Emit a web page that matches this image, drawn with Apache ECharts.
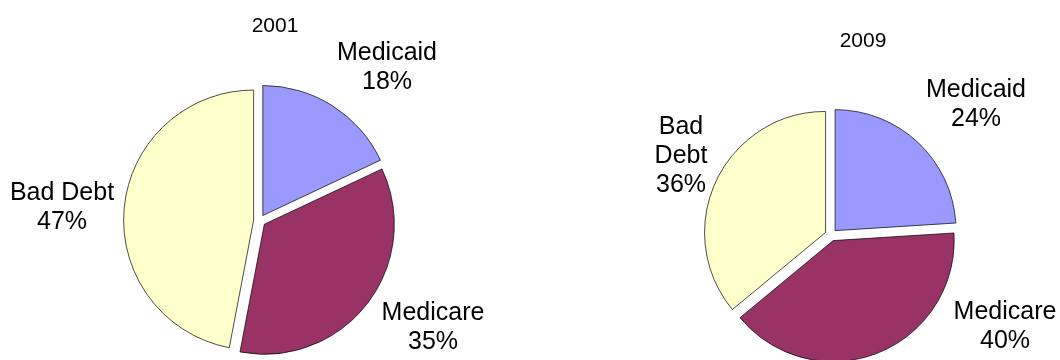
<!DOCTYPE html>
<html>
<head>
<meta charset="utf-8">
<script src="https://cdn.jsdelivr.net/npm/echarts@6/dist/echarts.min.js"></script>
<style>html,body{margin:0;padding:0;background:#fff;}#c{width:1060px;height:360px;}</style>
</head>
<body>
<div id="c"></div>
<script>
var categories = ['Medicaid', 'Medicare', 'Bad Debt'];
var values2001 = [18, 35, 47];
var values2009 = [24, 40, 36];
var titles = ['2001', '2009'];
var colors = ['#9999FF', '#993366', '#FFFFCC'];

// label block centres (layout only)
var labelPos2001 = [[387, 68], [433, 328], [62, 208]];
var labelPos2009 = [[976, 105], [1005, 327], [681, 156]];
var wrapNames2009 = { 2: 'Bad\nDebt' };

var FONT = '"Liberation Sans", Arial, sans-serif';

function makeSeries(vals, center, radius) {
  return {
    type: 'pie',
    center: center,
    radius: radius,
    startAngle: 90,
    clockwise: true,
    selectedMode: 'multiple',
    selectedOffset: 6,
    animation: false,
    silent: true,
    itemStyle: { borderColor: '#000', borderWidth: 0.7 },
    label: { show: false },
    labelLine: { show: false },
    emphasis: { disabled: true },
    data: categories.map(function (c, i) {
      return { name: c, value: vals[i], selected: true, itemStyle: { color: colors[i] } };
    })
  };
}

function makeLabels(vals, pos, wrap) {
  return categories.map(function (c, i) {
    var n = wrap && wrap[i] ? wrap[i] : c;
    return {
      type: 'text',
      x: pos[i][0],
      y: pos[i][1],
      silent: true,
      style: {
        text: n + '\n' + vals[i] + '%',
        fill: '#000',
        font: '25px ' + FONT,
        fontSize: 25,
        fontFamily: FONT,
        lineHeight: 29,
        align: 'center',
        verticalAlign: 'middle'
      }
    };
  });
}

var chart = echarts.init(document.getElementById('c'), null, { renderer: 'canvas' });
chart.setOption({
  backgroundColor: '#fff',
  title: [
    { text: titles[0], left: 270, top: 11, textAlign: 'center',
      textStyle: { fontFamily: FONT, fontSize: 21, fontWeight: 'normal', color: '#000' } },
    { text: titles[1], left: 858, top: 26, textAlign: 'center',
      textStyle: { fontFamily: FONT, fontSize: 21, fontWeight: 'normal', color: '#000' } }
  ],
  graphic: makeLabels(values2001, labelPos2001, null).concat(makeLabels(values2009, labelPos2009, wrapNames2009)),
  series: [
    makeSeries(values2001, [259.6, 220.6], 130),
    makeSeries(values2009, [831, 235], 121)
  ]
});
</script>
</body>
</html>
